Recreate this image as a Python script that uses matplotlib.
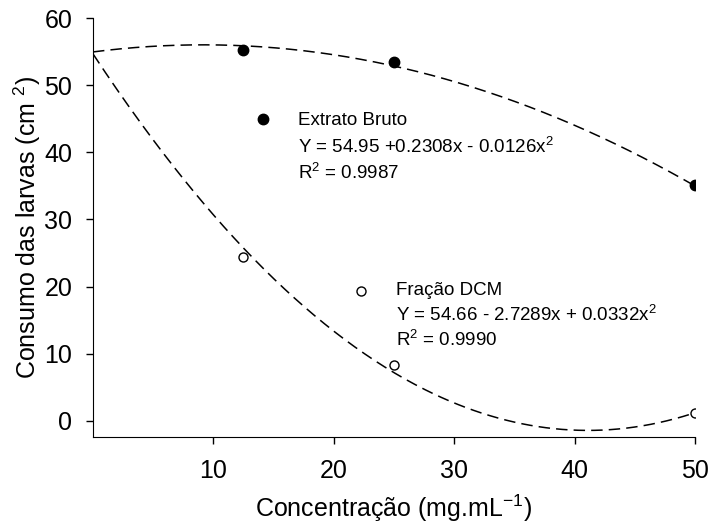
import matplotlib
matplotlib.use('Agg')
import matplotlib.pyplot as plt
import numpy as np

plt.rcParams['font.family'] = ['Liberation Sans', 'DejaVu Sans']
plt.rcParams['mathtext.fontset'] = 'custom'
plt.rcParams['mathtext.rm'] = 'Liberation Sans'
plt.rcParams['mathtext.it'] = 'Liberation Sans:italic'

# concentracoes testadas (mg/mL)
conc = [12.5, 25, 50]
bruto = [55.3, 53.5, 35.2]
dcm = [24.4, 8.3, 1.2]

# coeficientes das regressoes quadraticas (a, b, c)
coef_bruto = [54.95, 0.2308, -0.0126]
coef_dcm = [54.66, -2.7289, 0.0332]

fig = plt.figure(figsize=(7.11, 5.24), dpi=100)
ax = fig.add_axes([0.1308, 0.166, 0.8467, 0.7996])

xx = np.linspace(0, 50, 300)
for c in (coef_bruto, coef_dcm):
    yy = c[0] + c[1] * xx + c[2] * xx ** 2
    ax.plot(xx, yy, color='black', lw=1.1, dashes=(7.5, 4), zorder=1)

ax.plot(conc, bruto, 'o', color='black', ms=7.5, zorder=3)
ax.plot(conc, dcm, 'o', mfc='white', mec='black', mew=1, ms=6.5, zorder=3)

# legendas com as equacoes
fs = 13.5
ax.plot(14.1, 45.0, 'o', color='black', ms=7.5, clip_on=False)
ax.text(17.0, 44.8, 'Extrato Bruto', fontsize=fs, va='center')
ax.text(17.0, 40.8, 'Y = 54.95 +0.2308x - 0.0126x$^2$', fontsize=fs, va='center')
ax.text(17.0, 37.0, 'R$^2$ = 0.9987', fontsize=fs, va='center')

ax.plot(22.3, 19.4, 'o', mfc='white', mec='black', mew=1, ms=6.5, clip_on=False)
ax.text(25.2, 19.4, 'Fração DCM', fontsize=fs, va='center')
ax.text(25.2, 15.8, 'Y = 54.66 - 2.7289x + 0.0332x$^2$', fontsize=fs, va='center')
ax.text(25.2, 12.0, 'R$^2$ = 0.9990', fontsize=fs, va='center')

ax.set_xlim(0, 50)
ax.set_ylim(-2.4, 60)
ax.set_xticks([10, 20, 30, 40, 50])
ax.set_yticks([0, 10, 20, 30, 40, 50, 60])
ax.spines['top'].set_visible(False)
ax.spines['right'].set_visible(False)
ax.tick_params(axis='both', direction='out', length=5, width=1, labelsize=18)
ax.tick_params(axis='x', pad=11)
ax.tick_params(axis='y', pad=10)

ax.set_xlabel('Concentração (mg.mL$^{-1}$)', fontsize=18, labelpad=7)
ax.set_ylabel('Consumo das larvas (cm $^{2}$)', fontsize=18, labelpad=1)

fig.savefig('out.png', dpi=100)
